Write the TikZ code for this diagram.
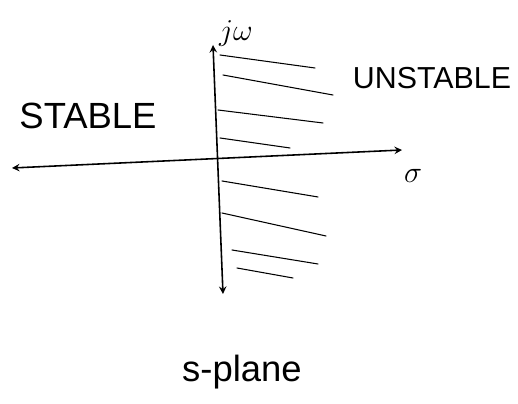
\documentclass[tikz,border=0pt]{standalone}
\usepackage{fontspec}
\setmainfont{Liberation Sans}
\begin{document}
\begin{tikzpicture}[x=0.02cm, y=-0.02cm, line join=round, line cap=round, >=stealth, font=\LARGE]
			\useasboundingbox (0,0) rectangle (518,404);
			\def\hw{0.9pt} \def\lw{0.6pt}
			\coordinate (top) at (213,45); \coordinate (bot) at (223,294);
			\coordinate (left) at (12,168); \coordinate (right) at (402,150);
			\draw[<->,line width=\hw] (top)--(bot);
			\draw[<->,line width=\hw] (left)--(right);
			\node (jw) at (236,34) {$j\omega$};
			\node (sigma) at (413,176) {$\sigma$};
			\node[font=\huge] (stable) at (88,116) {STABLE};
			\node (unstable) at (432,78) {UNSTABLE};
			\node[font=\huge] (splane) at (242,372) {s-plane};
			% hatching of the right half plane
			\foreach \a/\b/\c/\d in {220/55/315/68, 223/75/333/95, 218/110/323/123,
				220/138/290/148, 222/181/318/197, 222/213/326/236, 232/250/318/264, 237/268/293/278}
			\draw[line width=\lw] (\a,\b)--(\c,\d);
		\end{tikzpicture}
\end{document}
